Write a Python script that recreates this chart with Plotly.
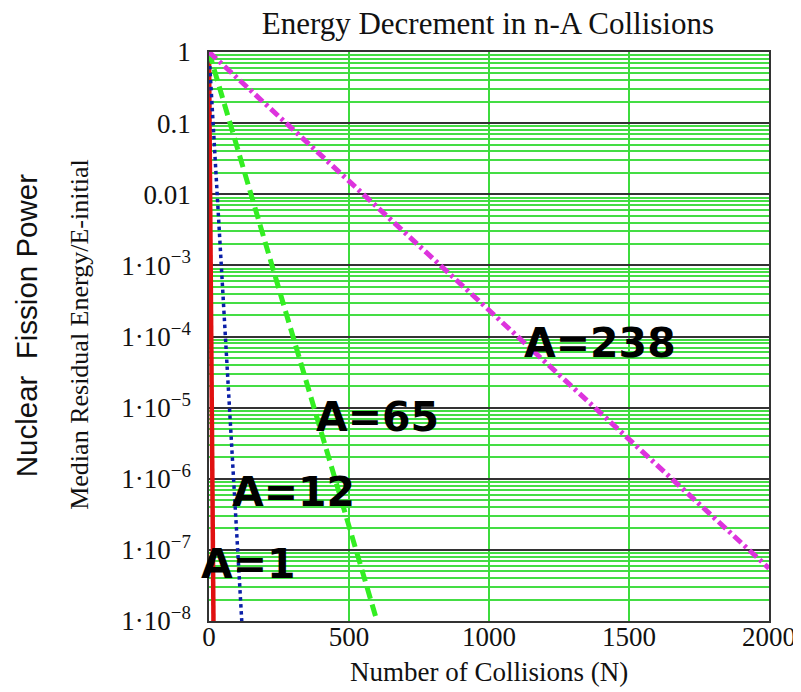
import plotly.graph_objects as go

# ---- data ----
n_a1 = [0, 16]
e_a1 = [1.0, 1e-8]
n_a12 = [0, 117]
e_a12 = [1.0, 1e-8]
n_a65 = [0, 600]
e_a65 = [1.0, 1e-8]
n_a238 = [0, 2000]
e_a238 = [1.0, 5.5e-8]

series_names = ["A=1", "A=12", "A=65", "A=238"]
label_x = [140, 300, 601, 1395]
label_ylog = [-7.20, -6.19, -5.13, -4.09]

x_ticks = [0, 500, 1000, 1500, 2000]
y_ticks = [1e-8, 1e-7, 1e-6, 1e-5, 1e-4, 1e-3, 1e-2, 1e-1, 1]
y_ticktext = ["1\u00b710<sup>\u22128</sup>", "1\u00b710<sup>\u22127</sup>", "1\u00b710<sup>\u22126</sup>",
              "1\u00b710<sup>\u22125</sup>", "1\u00b710<sup>\u22124</sup>", "1\u00b710<sup>\u22123</sup>",
              "0.01", "0.1", "1"]
y_minor = [m * 10.0 ** e for e in range(-8, 0) for m in range(2, 10)]

fig = go.Figure()
fig.add_trace(go.Scatter(x=n_a1, y=e_a1, mode="lines", name=series_names[0],
                         line=dict(color="#e01010", width=4.5)))
fig.add_trace(go.Scatter(x=n_a12, y=e_a12, mode="lines", name=series_names[1],
                         line=dict(color="#0a1fa8", width=3.5, dash="dot")))
fig.add_trace(go.Scatter(x=n_a65, y=e_a65, mode="lines", name=series_names[2],
                         line=dict(color="#33ee22", width=5, dash="12px,6px")))
fig.add_trace(go.Scatter(x=n_a238, y=e_a238, mode="lines", name=series_names[3],
                         line=dict(color="#dd33dd", width=5, dash="10px,4px,3px,4px")))

for name, lx, ly in zip(series_names, label_x, label_ylog):
    fig.add_annotation(x=lx, y=ly, text=name, showarrow=False, xanchor="center", yanchor="middle",
                       font=dict(family="DejaVu Sans", size=41, color="black", weight="bold"))

serif = "Liberation Serif"

fig.add_annotation(xref="paper", yref="paper", x=0, y=0.503, xshift=-129, text="Median Residual Energy/E-initial",
                   textangle=-90, showarrow=False, xanchor="center", yanchor="middle",
                   font=dict(family=serif, size=26, color="#111"))
fig.add_annotation(xref="paper", yref="paper", x=0, y=0.518, xshift=-183, text="Nuclear  Fission Power",
                   textangle=-90, showarrow=False, xanchor="center", yanchor="middle",
                   font=dict(family="Liberation Sans", size=29.5, color="#111"))
fig.add_annotation(xref="paper", yref="paper", x=0.5, y=0, yshift=-51, text="Number of Collisions (N)",
                   showarrow=False, xanchor="center", yanchor="middle",
                   font=dict(family=serif, size=27, color="#111"))

W, H = 793, 684
fig.update_layout(
    width=W, height=H,
    margin=dict(l=201, r=32, t=44, b=71, autoexpand=False),
    paper_bgcolor="white", plot_bgcolor="white",
    showlegend=False,
    title=dict(text="Energy Decrement in n-A Collisions", x=0.498, xref="paper",
               y=1 - 15 / H, yref="container", xanchor="center", yanchor="middle",
               automargin=False,
               font=dict(family=serif, size=31, color="#111")),
)
fig.update_xaxes(range=[0, 2000], tickvals=x_ticks, showgrid=True, gridcolor="#3ddc3d", gridwidth=1.5,
                 zeroline=False, showline=True, mirror=True, linecolor="#333", linewidth=1.5,
                 ticks="", ticklen=0, ticklabelstandoff=-9, automargin=False,
                 tickfont=dict(family=serif, size=27, color="#111"))
fig.update_yaxes(type="log", range=[-8, 0], tickvals=y_ticks, ticktext=y_ticktext,
                 showgrid=True, gridcolor="#333", gridwidth=1.5,
                 minor=dict(tickmode="array", tickvals=y_minor, showgrid=True, gridcolor="#44dd44",
                            gridwidth=1.5, ticks=""),
                 zeroline=False, showline=True, mirror=True, linecolor="#333", linewidth=1.5,
                 ticks="", ticklen=0, ticklabelstandoff=11, automargin=False,
                 tickfont=dict(family=serif, size=27, color="#111"))

fig.write_html("out.html")
